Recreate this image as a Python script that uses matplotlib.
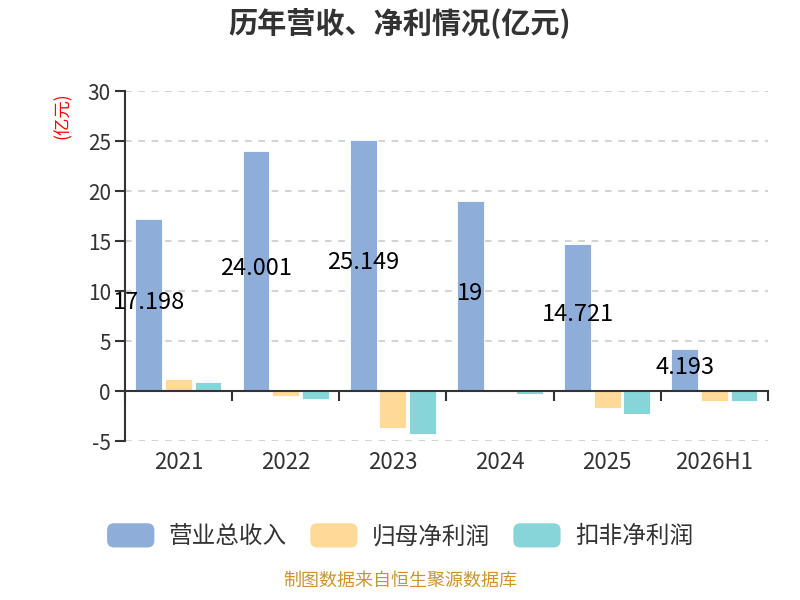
import numpy as np
import matplotlib.pyplot as plt
from matplotlib.patches import FancyBboxPatch
from matplotlib.legend_handler import HandlerPatch

plt.rcParams['font.family'] = ['Noto Sans CJK SC', 'DejaVu Sans']
plt.rcParams['axes.unicode_minus'] = False

# --- 数据 ---
years = ['2021', '2022', '2023', '2024', '2025', '2026H1']
revenue = [17.198, 24.001, 25.149, 19, 14.721, 4.193]
net_profit = [1.17, -0.46, -3.67, -0.06, -1.73, -0.97]
deducted_profit = [0.88, -0.83, -4.30, -0.33, -2.33, -0.98]
series_names = ['营业总收入', '归母净利润', '扣非净利润']
colors = ['#8eadd9', '#fed998', '#87d5d8']


class RoundHandler(HandlerPatch):
    def create_artists(self, legend, orig_handle, xdescent, ydescent,
                       width, height, fontsize, trans):
        p = FancyBboxPatch((-xdescent, -ydescent), width, height,
                           boxstyle='round,pad=0,rounding_size=5',
                           facecolor=orig_handle.get_facecolor(),
                           edgecolor='none', transform=trans)
        return [p]


fig = plt.figure(figsize=(8, 6), dpi=100)
ax = fig.add_axes([0.156, 0.265, 0.804, 0.5833])

x = np.arange(len(years))
w = 0.25
offs = [-0.276, 0, 0.276]
bars = []
for vals, off, c, name in zip([revenue, net_profit, deducted_profit], offs, colors, series_names):
    b = ax.bar(x + off, vals, width=w, color=c, edgecolor='white', linewidth=0.6, label=name)
    bars.append(b)

# 营收标签 (柱中间)
for xi, v in zip(x, revenue):
    ax.text(xi + offs[0], v / 2 + 0.3, f'{v:g}', ha='center', va='center', fontsize=17, color='black')

ax.set_xlim(-0.5, len(years) - 0.5)
ax.set_ylim(-5, 30)
ax.set_yticks(np.arange(-5, 31, 5))
for yv in np.arange(-5, 31, 5):
    if yv != 0:
        ax.axhline(yv, color='#cccccc', linestyle=(0, (4, 4)), linewidth=1.2, zorder=0)

for s in ['top', 'right']:
    ax.spines[s].set_visible(False)
ax.spines['left'].set_color('#333333')
ax.spines['left'].set_linewidth(1.5)
ax.spines['bottom'].set_position(('data', 0))
ax.spines['bottom'].set_color('#333333')
ax.spines['bottom'].set_linewidth(1.5)

ax.tick_params(axis='y', direction='out', length=7, width=1.5, color='#333333',
               labelsize=15, labelcolor='#333333', pad=3)
ax.set_xticks(x)
ax.set_xticklabels(years)
ax.tick_params(axis='x', which='major', length=0, labelsize=16, labelcolor='#333333', pad=43)
ax.set_xticks(np.arange(-0.5, len(years), 1), minor=True)
ax.tick_params(axis='x', which='minor', direction='out', length=7, width=1.5, color='#333333')

fig.text(0.078, 0.808, '(亿元)', rotation=90, color='red', fontsize=12.5, ha='center', va='center')
fig.text(0.5, 0.963, '历年营收、净利情况(亿元)', ha='center', va='center', fontsize=21,
         fontweight='bold', color='#333333')

leg = fig.legend(handles=[b.patches[0] for b in bars], labels=series_names,
                 loc='center', bbox_to_anchor=(0.5, 0.107), ncol=3, frameon=False,
                 fontsize=17, handlelength=2.0, handleheight=1.2, handletextpad=0.6,
                 columnspacing=1.0, handler_map={plt.Rectangle: RoundHandler()})
for t in leg.get_texts():
    t.set_color('#333333')

fig.text(0.5, 0.017, '制图数据来自恒生聚源数据库', ha='center', va='bottom', fontsize=13, color='#c8962e')

fig.savefig('out.png', dpi=100)
